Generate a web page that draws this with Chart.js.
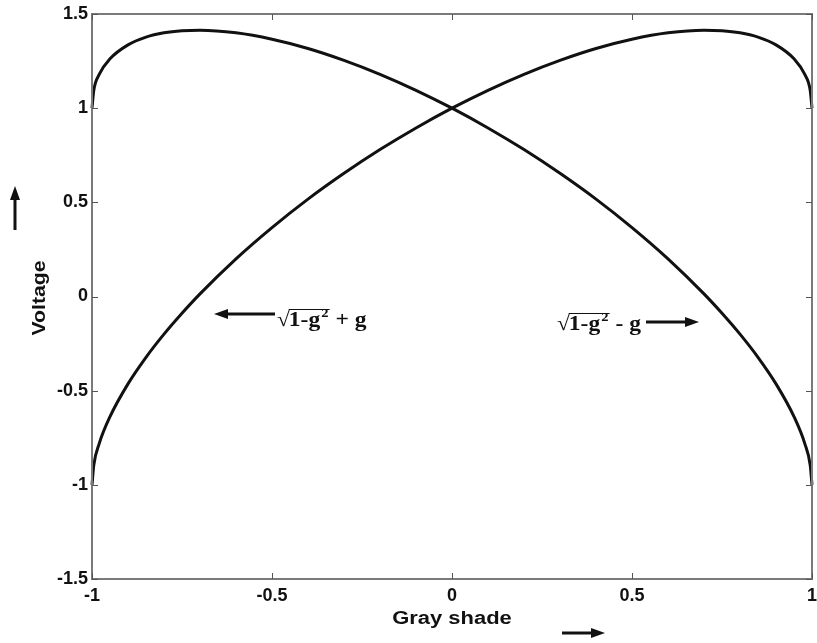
<!DOCTYPE html>
<html>
<head>
<meta charset="utf-8">
<script src="https://cdn.jsdelivr.net/npm/chart.js@4/dist/chart.umd.min.js"></script>
<style>
  html, body { margin: 0; padding: 0; background: #fff; }
  canvas { display: block; }
</style>
</head>
<body>
<canvas id="voltageChart" width="817" height="643"></canvas>
<script>
// Gray shade values (x)
const grayShade = [-1, -0.995, -0.98, -0.95, -0.9, -0.85, -0.8, -0.75, -0.7, -0.6, -0.5, -0.4, -0.3, -0.2, -0.1,
    0, 0.1, 0.2, 0.3, 0.4, 0.5, 0.6, 0.7, 0.75, 0.8, 0.85, 0.9, 0.95, 0.98, 0.995, 1];

// Voltage for curve sqrt(1-g^2) + g
const voltagePlus = [-1, -0.895, -0.781, -0.638, -0.464, -0.323, -0.2, -0.089, 0.014, 0.2, 0.366, 0.517, 0.654, 0.78, 0.895,
    1, 1.095, 1.18, 1.254, 1.317, 1.366, 1.4, 1.414, 1.411, 1.4, 1.377, 1.336, 1.262, 1.179, 1.095, 1];

// Voltage for curve sqrt(1-g^2) - g
const voltageMinus = [1, 1.095, 1.179, 1.262, 1.336, 1.377, 1.4, 1.411, 1.414, 1.4, 1.366, 1.317, 1.254, 1.18, 1.095,
    1, 0.895, 0.78, 0.654, 0.517, 0.366, 0.2, 0.014, -0.089, -0.2, -0.323, -0.464, -0.638, -0.781, -0.895, -1];

const xTickValues = [-1, -0.5, 0, 0.5, 1];
const xTickLabels = ['-1', '-0.5', '0', '0.5', '1'];
const yTickValues = [-1.5, -1, -0.5, 0, 0.5, 1, 1.5];
const yTickLabels = ['-1.5', '-1', '-0.5', '0', '0.5', '1', '1.5'];

const TICK_FONT = { family: "'Liberation Sans', Arial, sans-serif", size: 18, weight: 'bold' };

function toPoints(xs, ys) {
    return xs.map((x, i) => ({ x: x, y: ys[i] }));
}

function arrow(ctx, x1, y1, x2, y2) {
    // line from (x1,y1) with the head at (x2,y2)
    const ang = Math.atan2(y2 - y1, x2 - x1);
    const headLen = 14, headW = 5;
    ctx.beginPath();
    ctx.moveTo(x1, y1);
    ctx.lineTo(x2 - Math.cos(ang) * headLen, y2 - Math.sin(ang) * headLen);
    ctx.lineWidth = 3;
    ctx.stroke();
    ctx.beginPath();
    ctx.moveTo(x2, y2);
    ctx.lineTo(x2 - Math.cos(ang) * headLen - Math.sin(ang) * headW, y2 - Math.sin(ang) * headLen + Math.cos(ang) * headW);
    ctx.lineTo(x2 - Math.cos(ang) * headLen + Math.sin(ang) * headW, y2 - Math.sin(ang) * headLen - Math.cos(ang) * headW);
    ctx.closePath();
    ctx.fill();
}

// draws sqrt(1-g^2) <sign> g starting at x, baseline y
function formula(ctx, x, y, sign) {
    ctx.save();
    ctx.translate(x, y);
    ctx.scale(1.12, 1);
    const big = "bold 21px 'Liberation Serif', 'Times New Roman', serif";
    ctx.font = big;
    ctx.textAlign = 'left';
    ctx.textBaseline = 'alphabetic';
    let cx = 0;
    ctx.fillText('\u221A', cx, 0);
    cx += ctx.measureText('\u221A').width - 1;
    const start = cx;
    ctx.fillText('1-g', cx, 0);
    cx += ctx.measureText('1-g').width;
    ctx.font = "bold 13px 'Liberation Serif', 'Times New Roman', serif";
    ctx.fillText('2', cx + 1, -9);
    cx += ctx.measureText('2').width + 2;
    ctx.beginPath();
    ctx.moveTo(start, -16.5);
    ctx.lineTo(cx, -16.5);
    ctx.lineWidth = 1.2;
    ctx.stroke();
    ctx.font = big;
    ctx.fillText(' ' + sign + ' g', cx, 0);
    ctx.restore();
}

const decorPlugin = {
    id: 'decor',
    afterDraw(chart) {
        const ctx = chart.ctx;
        const area = chart.chartArea;
        const xs = chart.scales.x, ys = chart.scales.y;
        ctx.save();

        // box
        ctx.strokeStyle = '#7a7a7a';
        ctx.lineWidth = 2;
        ctx.strokeRect(area.left, area.top, area.right - area.left, area.bottom - area.top);

        // inward ticks on all sides
        ctx.strokeStyle = '#555';
        ctx.lineWidth = 1;
        const tl = 6;
        yTickValues.forEach(v => {
            const py = Math.round(ys.getPixelForValue(v)) + 0.5;
            ctx.beginPath();
            ctx.moveTo(area.left, py); ctx.lineTo(area.left + tl, py);
            ctx.moveTo(area.right, py); ctx.lineTo(area.right - tl, py);
            ctx.stroke();
        });
        xTickValues.forEach(v => {
            const px = Math.round(xs.getPixelForValue(v)) + 0.5;
            ctx.beginPath();
            ctx.moveTo(px, area.bottom); ctx.lineTo(px, area.bottom - tl);
            ctx.moveTo(px, area.top); ctx.lineTo(px, area.top + tl);
            ctx.stroke();
        });

        ctx.fillStyle = '#111';
        ctx.strokeStyle = '#111';

        // axis titles
        ctx.font = "bold 18px 'Liberation Sans', Arial, sans-serif";
        ctx.textAlign = 'center';
        ctx.textBaseline = 'middle';
        ctx.save();
        ctx.translate(452, 619);
        ctx.scale(1.22, 1);
        ctx.fillText('Gray shade', 0, 0);
        ctx.restore();

        ctx.save();
        ctx.translate(40, 298);
        ctx.rotate(-Math.PI / 2);
        ctx.scale(1.18, 1);
        ctx.fillText('Voltage', 0, 0);
        ctx.restore();

        // direction arrows next to the titles
        arrow(ctx, 15, 230, 15, 186);
        arrow(ctx, 562, 633, 605, 633);

        // curve annotations
        arrow(ctx, 275, 314, 214, 314);
        formula(ctx, 277, 326, '+');
        formula(ctx, 557, 330, '-');
        arrow(ctx, 646, 322, 699, 322);

        ctx.restore();
    }
};

const ctx = document.getElementById('voltageChart').getContext('2d');
const voltageChart = new Chart(ctx, {
    type: 'scatter',
    data: {
        datasets: [{
            label: 'sqrt(1-g^2) + g',
            data: toPoints(grayShade, voltagePlus),
            showLine: true,
            borderColor: '#111',
            borderWidth: 3,
            pointRadius: 0,
            cubicInterpolationMode: 'monotone',
            clip: false
        }, {
            label: 'sqrt(1-g^2) - g',
            data: toPoints(grayShade, voltageMinus),
            showLine: true,
            borderColor: '#111',
            borderWidth: 3,
            pointRadius: 0,
            cubicInterpolationMode: 'monotone',
            clip: false
        }]
    },
    options: {
        responsive: false,
        animation: false,
        layout: { padding: { left: 0, top: 14, right: 5, bottom: 0 } },
        plugins: {
            legend: { display: false },
            tooltip: { enabled: false }
        },
        scales: {
            x: {
                type: 'linear',
                min: -1,
                max: 1,
                afterBuildTicks: scale => { scale.ticks = xTickValues.map(v => ({ value: v })); },
                afterFit: scale => {
                    scale.height = 64;
                    scale.paddingLeft = 0;
                    scale.paddingRight = 0;
                },
                grid: { display: false, drawTicks: false },
                border: { display: false },
                ticks: {
                    color: '#111', font: TICK_FONT, padding: 6, maxRotation: 0,
                    callback: (v, i) => xTickLabels[i]
                }
            },
            y: {
                type: 'linear',
                min: -1.5,
                max: 1.5,
                afterBuildTicks: scale => { scale.ticks = yTickValues.map(v => ({ value: v })); },
                afterFit: scale => {
                    scale.width = 92;
                    scale.paddingTop = 0;
                    scale.paddingBottom = 0;
                },
                grid: { display: false, drawTicks: false },
                border: { display: false },
                ticks: {
                    color: '#111', font: TICK_FONT, padding: 4,
                    callback: (v, i) => yTickLabels[i]
                }
            }
        }
    },
    plugins: [decorPlugin]
});
</script>
</body>
</html>
